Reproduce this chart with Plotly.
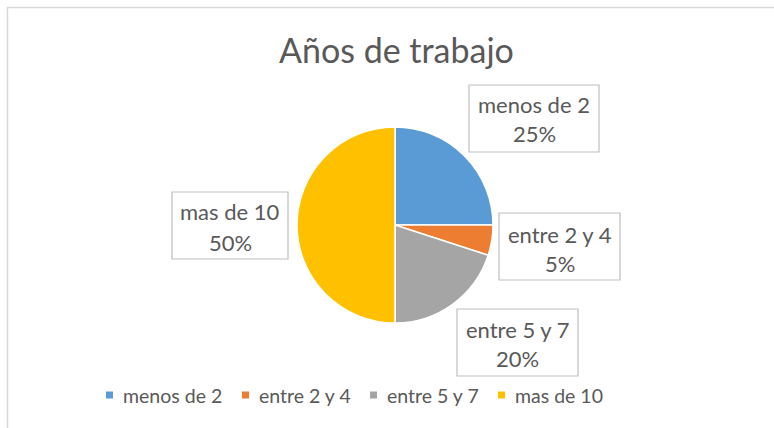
import plotly.graph_objects as go

title = "Años de trabajo"
categories = ["menos de 2", "entre 2 y 4", "entre 5 y 7", "mas de 10"]
values = [25, 5, 20, 50]
colors = ["#5B9BD5", "#ED7D31", "#A5A5A5", "#FFC000"]

W, H = 774, 428
FONT = "Lato"
TXT = "#595959"

def px(x):
    return x / W

def py(y):
    return 1 - y / H

# pie geometry
cx, cy, r = 395, 225, 98

fig = go.Figure(go.Pie(
    labels=categories,
    values=values,
    marker=dict(colors=colors, line=dict(color="white", width=1.5)),
    sort=False,
    direction="clockwise",
    rotation=0,
    textinfo="none",
    hoverinfo="label+percent",
    showlegend=False,
    domain=dict(x=[px(cx - r), px(cx + r)], y=[py(cy + r), py(cy - r)]),
))

shapes = []
annotations = []

# chart border (only left/top visible in frame)
shapes.append(dict(type="rect", xref="paper", yref="paper",
                   x0=px(7.5), x1=1.05, y0=-0.05, y1=py(7.5),
                   line=dict(color="#D9D9D9", width=1.5), fillcolor="rgba(0,0,0,0)"))

# data label boxes: (x0, x1, y0, y1, line1_y, line2_y)
boxes = [
    (469, 599, 85, 152, 105, 133),
    (499, 620, 213, 280, 234, 263),
    (457, 578, 309, 376, 329, 358),
    (172, 288, 192, 259, 212, 242),
]
total = sum(values)
for cat, val, (x0, x1, y0, y1, l1, l2) in zip(categories, values, boxes):
    shapes.append(dict(type="rect", xref="paper", yref="paper",
                       x0=px(x0), x1=px(x1), y0=py(y1), y1=py(y0),
                       line=dict(color="#BFBFBF", width=1.2), fillcolor="white",
                       layer="above"))
    xc = (x0 + x1) / 2
    pct = f"{round(100 * val / total)}%"
    for txt, yy in ((cat, l1), (pct, l2)):
        annotations.append(dict(text=txt, xref="paper", yref="paper",
                                x=px(xc), y=py(yy), xanchor="center", yanchor="middle",
                                showarrow=False, font=dict(family=FONT, size=22, color=TXT)))

# title
annotations.append(dict(text=title, xref="paper", yref="paper", x=px(396), y=py(50),
                        xanchor="center", yanchor="middle", showarrow=False,
                        font=dict(family=FONT, size=34, color=TXT)))

# legend
leg_marker_x = [106, 242, 370, 498]
leg_y = 395
for cat, col, mx in zip(categories, colors, leg_marker_x):
    shapes.append(dict(type="rect", xref="paper", yref="paper",
                       x0=px(mx), x1=px(mx + 7), y0=py(leg_y + 3.5), y1=py(leg_y - 3.5),
                       line=dict(width=0), fillcolor=col))
    annotations.append(dict(text=cat, xref="paper", yref="paper", x=px(mx + 15), y=py(leg_y),
                            xanchor="left", yanchor="middle", showarrow=False,
                            font=dict(family=FONT, size=19.5, color=TXT)))

fig.update_layout(
    width=W, height=H, autosize=False,
    margin=dict(l=0, r=0, t=0, b=0),
    paper_bgcolor="white", plot_bgcolor="white",
    shapes=shapes, annotations=annotations,
)

fig.write_html("out.html",
               config={"displayModeBar": False},
               post_script="document.body.style.margin='0';document.body.style.overflow='hidden';")
